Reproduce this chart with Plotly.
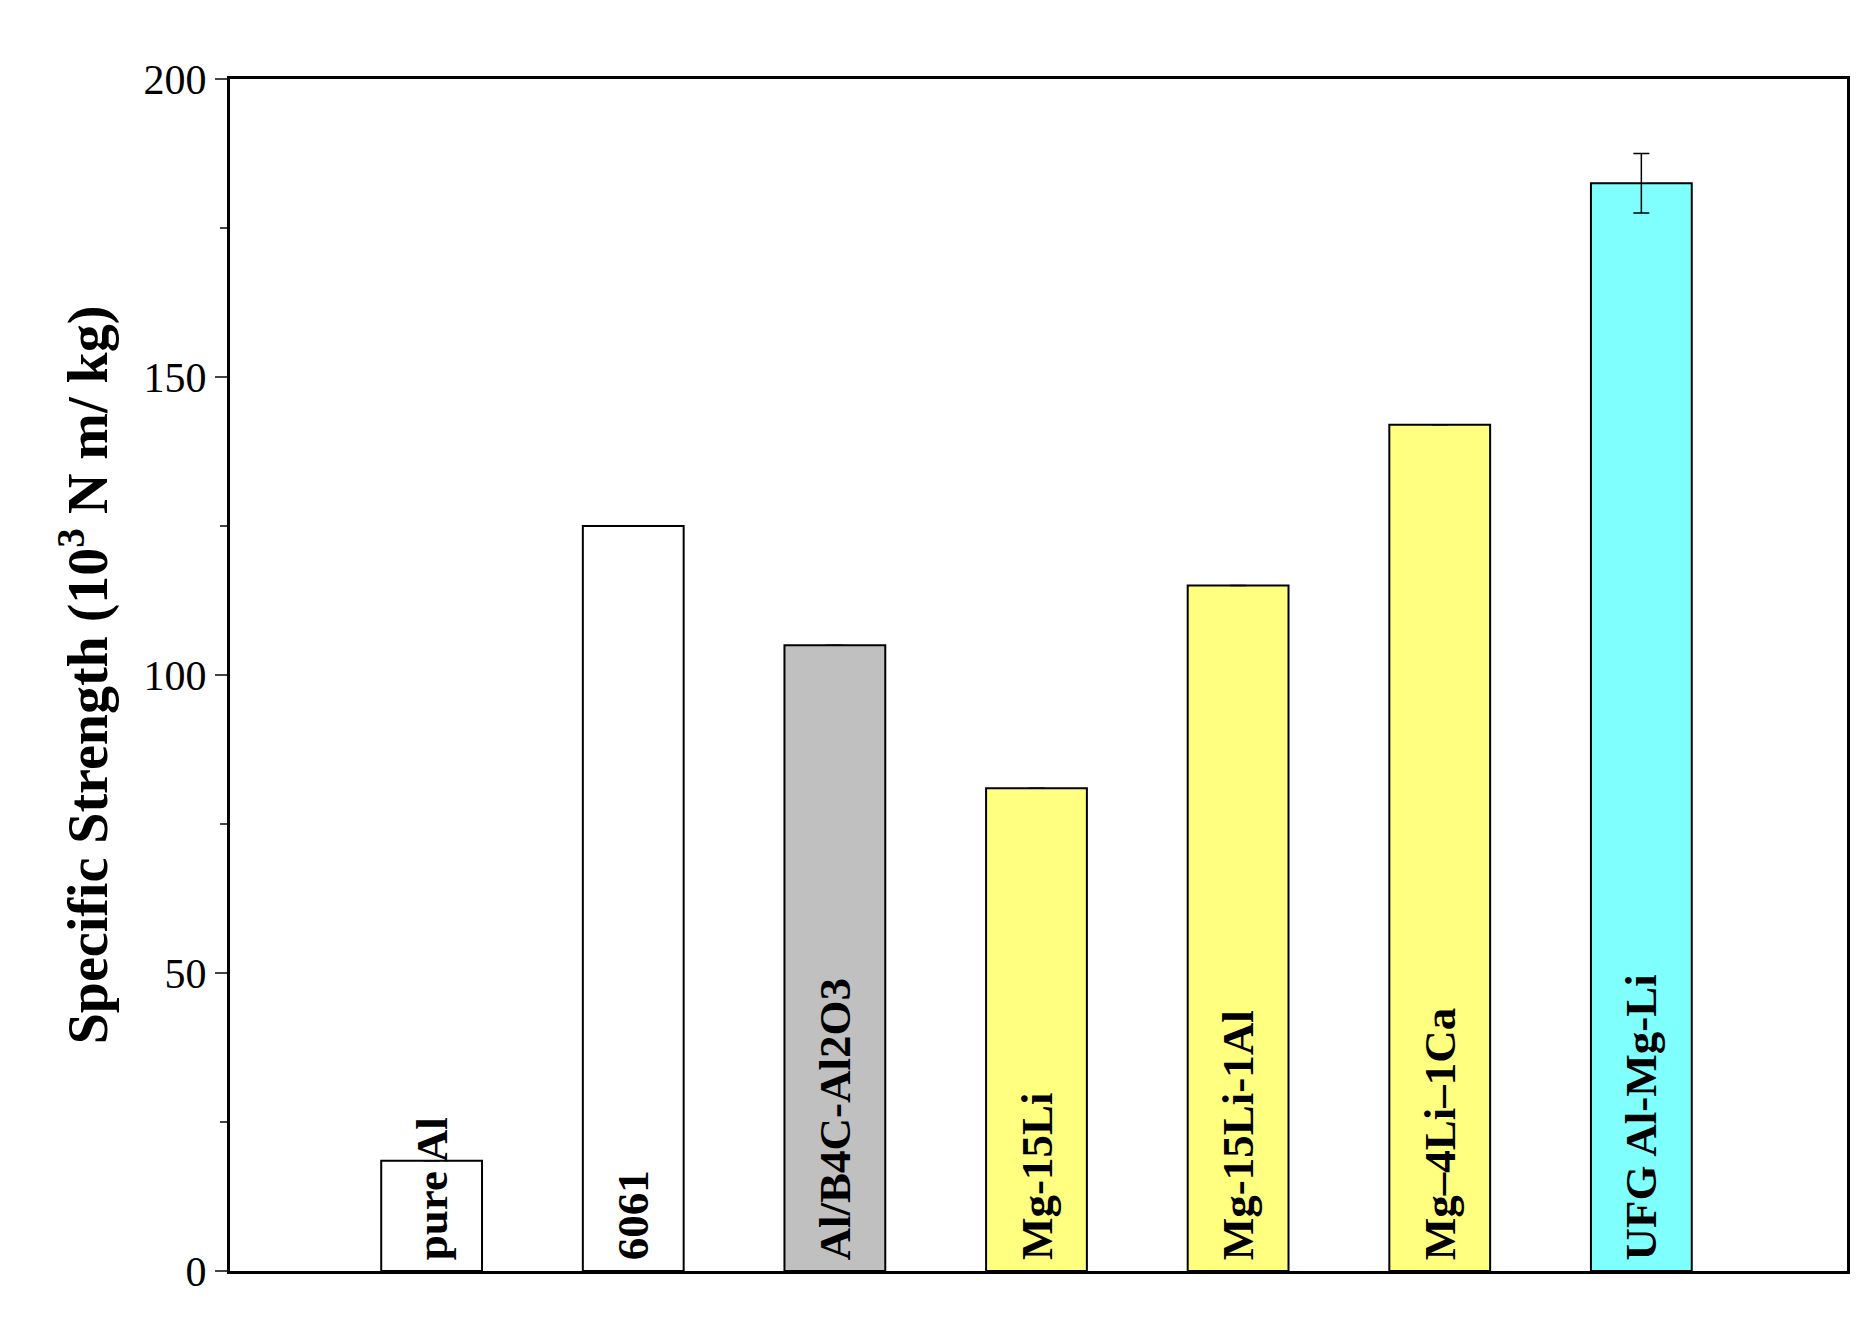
import plotly.graph_objects as go

labels = ["pure Al", "6061", "Al/B4C-Al2O3", "Mg-15Li", "Mg-15Li-1Al", "Mg\u20134Li\u20131Ca", "UFG Al-Mg-Li"]
values = [18.5, 125, 105, 81, 115, 142, 182.5]
errors = [0, 0, 0, 0, 0, 0, 5]
colors = ["#ffffff", "#ffffff", "#c0c0c0", "#ffff80", "#ffff80", "#ffff80", "#80ffff"]
positions = [1, 2, 3, 4, 5, 6, 7]
yticks = [0, 50, 100, 150, 200]

font = "Liberation Serif"
fig = go.Figure()
fig.add_trace(go.Bar(
    x=positions, y=values, width=0.5,
    marker=dict(color=colors, line=dict(color="black", width=2)),
    error_y=dict(type="data", array=errors, visible=True, color="black", thickness=1.5, width=8),
    showlegend=False,
))
for p, lab in zip(positions, labels):
    fig.add_annotation(x=p, y=1.5, text="<b>%s</b>" % lab, textangle=-90, showarrow=False,
                       xanchor="center", yanchor="bottom",
                       font=dict(family=font, size=45, color="black"))
fig.update_layout(
    width=1866, height=1317, paper_bgcolor="white", plot_bgcolor="white",
    margin=dict(l=222, r=27, t=71, b=54),
    xaxis=dict(range=[0, 8.02], showticklabels=False, ticks="", showgrid=False, zeroline=False,
               showline=True, linecolor="black", linewidth=3, mirror=True),
    yaxis=dict(range=[0, 200], tickvals=yticks, ticks="outside", ticklen=12, tickwidth=2,
               showgrid=False, zeroline=False, showline=True, linecolor="black", linewidth=3, mirror=True,
               minor=dict(dtick=25, ticks="outside", ticklen=7, tickwidth=2),
               tickfont=dict(family=font, size=42, color="black"),
               title=dict(text="<b>Specific Strength (10<sup>3</sup> N m/ kg)</b>", standoff=18,
                          font=dict(family=font, size=56, color="black"))),
)
fig.write_html("out.html")
